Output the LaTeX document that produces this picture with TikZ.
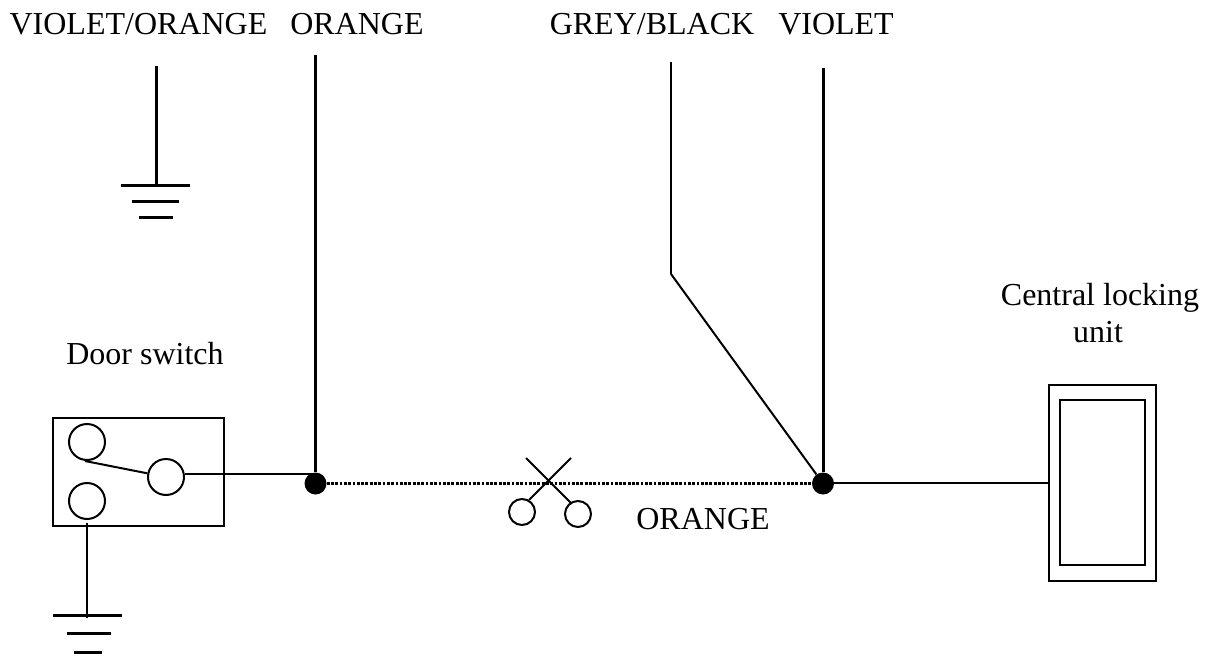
\documentclass[tikz,border=0pt]{standalone}
\usepackage{fontspec}
\setmainfont{Liberation Serif}
\usetikzlibrary{positioning,calc}
\tikzset{
  lbl/.style={anchor=base,inner sep=0pt,font=\fontsize{32}{38}\selectfont,align=center},
  ring/.style={shape=circle,draw=black,line width=2pt,inner sep=0pt,minimum size=#1},
  box/.style={shape=rectangle,draw=black,line width=2pt,inner sep=0pt},
  dot/.style={shape=circle,fill=black,inner sep=0pt,minimum size=22pt},
  thin wire/.style={line width=2pt},
  thick wire/.style={line width=3pt},
  dotted wire/.style={line width=3pt,dash pattern=on 2.8pt off 1.5pt}
}
\begin{document}
\begin{tikzpicture}[x=1pt,y=-1pt]
    \useasboundingbox (0,0) rectangle (1209,658);
    % labels
    \node[lbl] (vo) at (138.5,35) {VIOLET/ORANGE};
    \node[lbl] (or) at (357,35) {ORANGE};
    \node[lbl] (gb) at (652,35) {GREY/BLACK};
    \node[lbl] (vi) at (836,35) {VIOLET};
    \node[lbl] (ds) at (145,364) {Door switch};
    \node[lbl] (cl) at (1100,305) {Central locking};
    \node[lbl] (un) at (1098,342.5) {unit};
    \node[lbl] (om) at (703,529) {ORANGE};
    % door switch
    \node[box,minimum width=171pt,minimum height=108pt] (S) at (138.5,471.5) {};
    \node[ring=36pt] (S1) at (87,442) {};
    \node[ring=36pt] (S2) at (87,501) {};
    \node[ring=36pt] (S3) at (166,477) {};
    \node[dot] (J1) at (315.5,483.5) {};
    \node[dot] (J2) at (823,483.5) {};
    % central locking unit
    \node[box,minimum width=107pt,minimum height=196pt] (U) at (1102.5,482.5) {};
    \node[box,minimum width=85pt,minimum height=165pt] (UI) at (1102.5,482.5) {};
    % scissors
    \node[ring=26pt] (C1) at (522,512) {};
    \node[ring=26pt] (C2) at (578,514) {};
    \coordinate (X1) at (526,458);
    \coordinate (X2) at (571,458);
    \coordinate (X3) at (571,503);
    \coordinate (X4) at (529,500);
    % wire ends
    \coordinate (T1) at (156.5,66);
    \coordinate (T2) at (315.5,55);
    \coordinate (T3) at (671,62);
    \coordinate (T4) at (823,68);
    \coordinate (K) at (671,274);
    \coordinate (A) at (85,461);
    \coordinate (W) at (315.5,474);
    \coordinate (W2) at (823,483);
    % top earth
    \coordinate (E1) at (156.5,185);
    \coordinate (E1a) at (121,185);
    \coordinate (E1b) at (190,185);
    \coordinate (E2a) at (132,201);
    \coordinate (E2b) at (179,201);
    \coordinate (E3a) at (139,217);
    \coordinate (E3b) at (173,217);
    % bottom earth
    \coordinate (F0) at (87,523);
    \coordinate (F1) at (87,618);
    \coordinate (F1a) at (53,615);
    \coordinate (F1b) at (122,615);
    \coordinate (F2a) at (67,633);
    \coordinate (F2b) at (111,633);
    \coordinate (F3a) at (74,652);
    \coordinate (F3b) at (102,652);
    \path [thick wire](T1) edge node {} (E1);
    \path [thick wire](E1a) edge node {} (E1b);
    \path [thick wire](E2a) edge node {} (E2b);
    \path [thick wire](E3a) edge node {} (E3b);
    \path [thick wire](T2) edge node {} (J1);
    \path [thick wire](T4) edge node {} (J2);
    \path [thin wire](T3) edge node {} (K);
    \path [thin wire](K) edge node {} (J2);
    \path [thin wire](A) edge node {} (S3);
    \path [thin wire](S3.east |- W) edge node {} (W);
    \path [thin wire](W2) edge node {} (U.west |- W2);
    \path [thin wire](F0) edge node {} (F1);
    \path [thick wire](F1a) edge node {} (F1b);
    \path [thick wire](F2a) edge node {} (F2b);
    \path [thick wire](F3a) edge node {} (F3b);
    \path [dotted wire](J1) edge node {} (J2);
    \path [thin wire](X1) edge node {} (X3);
    \path [thin wire](X2) edge node {} (X4);
\end{tikzpicture}
\end{document}
